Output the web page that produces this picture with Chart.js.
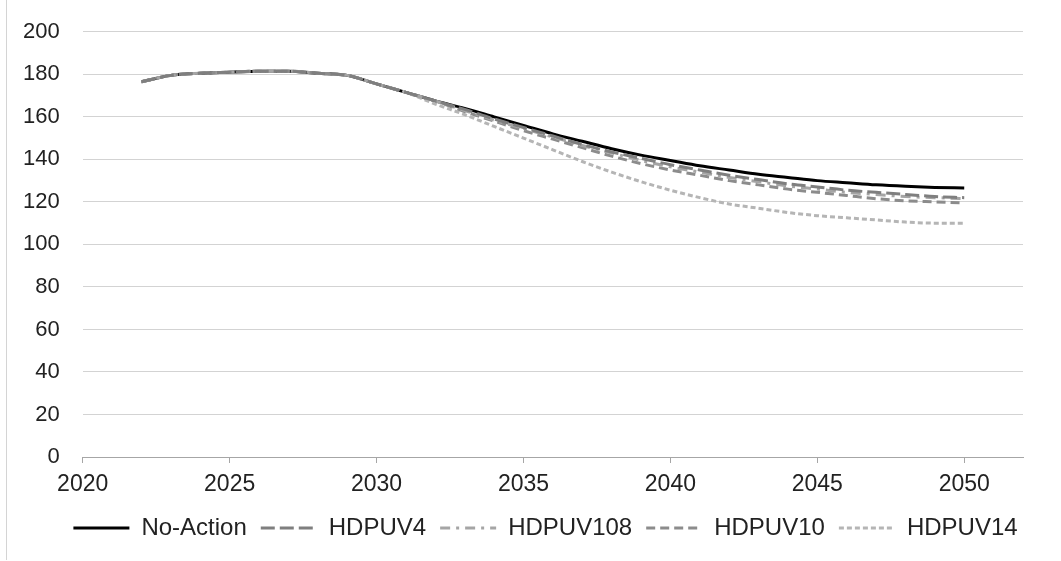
<!DOCTYPE html>
<html>
<head>
<meta charset="utf-8">
<script src="https://cdn.jsdelivr.net/npm/chart.js@4"></script>
<style>
  html, body { margin: 0; padding: 0; background: #fff; }
  #wrap { position: relative; width: 1061px; height: 561px; }
  #frame { position: absolute; left: 6px; top: 0; width: 1054px; height: 560px; border-left: 1px solid #d4d4d4; box-sizing: border-box; pointer-events: none; }
</style>
</head>
<body>
<div id="wrap">
  <canvas id="chart" width="1061" height="561"></canvas>
  <div id="frame"></div>
</div>
<script>
var years = [2022, 2023, 2024, 2025, 2026, 2027, 2028, 2029, 2030, 2031, 2032,
             2033, 2034, 2035, 2036, 2037, 2038, 2039, 2040, 2041, 2042,
             2043, 2044, 2045, 2046, 2047, 2048, 2049, 2050];
var xTicks = [2020, 2025, 2030, 2035, 2040, 2045, 2050];

// shared history up to 2032
var base = [176.5, 179.5, 180.5, 181, 181.5, 181.5, 180.5, 179.5, 175.5, 171.5, 167.5];

var noAction = base.concat([164, 160, 156, 152, 148.5, 145, 142, 139.5, 137, 135,
                            133, 131.5, 130, 129, 128, 127.3, 126.8, 126.5]);
var hdpuv4   = base.concat([163.5, 159, 155, 151, 147, 143.5, 140.5, 137.5, 135, 132.5,
                            130.5, 128.5, 127, 125.5, 124.5, 123.5, 122.5, 122]);
var hdpuv108 = base.concat([163, 158.5, 154.5, 150.5, 146.5, 143, 139.5, 136.5, 134, 131.5,
                            129.5, 127.5, 126, 124.5, 123.5, 122.5, 122, 121.5]);
var hdpuv10  = base.concat([162.5, 158, 153.5, 149.5, 145.5, 141.5, 138, 135, 132.5, 130,
                            128, 126, 124.5, 123, 121.5, 120.5, 120, 119.5]);
var hdpuv14  = base.slice(0, 10).concat([166, 161, 155.5, 150, 144.5, 139, 134, 129.5, 125.5, 122, 119,
                            117, 115, 113.5, 112.5, 111.5, 110.5, 110, 110]);

var toPoints = function (vals) {
  return vals.map(function (v, i) { return { x: years[i], y: v }; });
};

var family = "'Liberation Sans', Arial, sans-serif";

// legend sits a bit right of canvas centre in the original
var shiftLegend = {
  id: 'shiftLegend',
  afterLayout: function (chart) {
    if (chart.legend) {
      chart.legend.left += 34;
      chart.legend.right += 34;
    }
  }
};

var ctx = document.getElementById("chart").getContext("2d");
var chart = new Chart(ctx, {
  type: 'line',
  data: {
    datasets: [
      { label: 'No-Action', data: toPoints(noAction), borderColor: '#000000', borderWidth: 3, order: 1 },
      { label: 'HDPUV4', data: toPoints(hdpuv4), borderColor: '#7f7f7f', borderWidth: 3, borderDash: [14, 5] },
      { label: 'HDPUV108', data: toPoints(hdpuv108), borderColor: '#a5a5a5', borderWidth: 3, borderDash: [10, 6, 3, 6] },
      { label: 'HDPUV10', data: toPoints(hdpuv10), borderColor: '#8c8c8c', borderWidth: 3, borderDash: [9, 5] },
      { label: 'HDPUV14', data: toPoints(hdpuv14), borderColor: '#b5b5b5', borderWidth: 3, borderDash: [5, 3] }
    ]
  },
  options: {
    responsive: false,
    animation: false,
    layout: { padding: { left: 0, right: 38, top: 4, bottom: 11 } },
    elements: {
      point: { radius: 0 },
      line: { cubicInterpolationMode: 'monotone', backgroundColor: 'transparent' }
    },
    scales: {
      x: {
        type: 'linear',
        min: 2020,
        max: 2052,
        ticks: { color: '#222', font: { family: family, size: 23 }, padding: 8,
                 callback: function (v) { return String(v); } },
        afterBuildTicks: function (scale) {
          scale.ticks = xTicks.map(function (v) { return { value: v }; });
        },
        afterFit: function (scale) { scale.height = 45; },
        grid: { drawOnChartArea: false, drawTicks: true, tickLength: 6, color: '#a6a6a6' },
        border: { display: true, color: '#a6a6a6', width: 1 }
      },
      y: {
        min: 0,
        max: 200,
        ticks: { stepSize: 20, color: '#222', font: { family: family, size: 22, lineHeight: 0.8 }, padding: 23 },
        grid: { color: '#d3d3d3', drawTicks: false },
        border: { display: false }
      }
    },
    plugins: {
      tooltip: { enabled: false },
      legend: {
        display: true,
        position: 'bottom',
        labels: {
          color: '#222',
          font: { family: family, size: 24 },
          usePointStyle: true,
          pointStyle: 'line',
          pointStyleWidth: 56,
          padding: 14,
          generateLabels: function (chart) {
            var items = Chart.defaults.plugins.legend.labels.generateLabels(chart);
            items.forEach(function (item) {
              var ds = chart.data.datasets[item.datasetIndex];
              item.lineDash = ds.borderDash || [];
              item.lineWidth = ds.borderWidth;
              item.strokeStyle = ds.borderColor;
              item.pointStyle = 'line';
            });
            return items;
          },
          sort: function (a, b) { return a.datasetIndex - b.datasetIndex; }
        }
      }
    }
  },
  plugins: [shiftLegend]
});
</script>
</body>
</html>
